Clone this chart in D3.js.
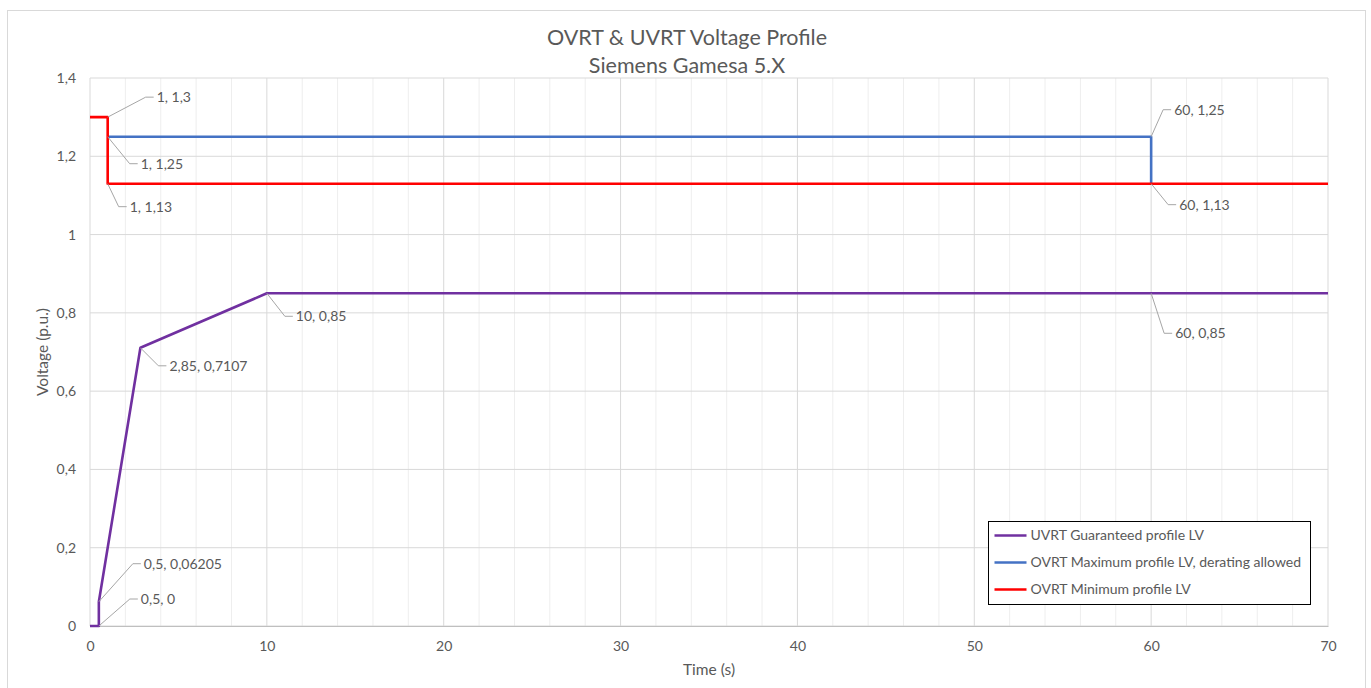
<!DOCTYPE html>
<html>
<head>
<meta charset="utf-8">
<script src="https://cdn.jsdelivr.net/npm/d3@7"></script>
<style>
  body { margin: 0; background: #fff; }
  text { font-family: Lato, "Open Sans", sans-serif; fill: #595959; }
</style>
</head>
<body>
<div id="chart"></div>
<script>
// series data (time s, voltage p.u.)
const uvrtT = [0, 0.5, 0.5, 2.85, 10, 60, 70];
const uvrtV = [0, 0, 0.06205, 0.7107, 0.85, 0.85, 0.85];
const ovrtMaxT = [1, 60, 60];
const ovrtMaxV = [1.25, 1.25, 1.13];
const ovrtMinT = [0, 1, 1, 70];
const ovrtMinV = [1.3, 1.3, 1.13, 1.13];

const seriesNames = ['UVRT Guaranteed profile LV', 'OVRT Maximum profile LV, derating allowed', 'OVRT Minimum profile LV'];
const seriesColors = ['#7030A0', '#4472C4', '#FF0000'];

// annotated points: [time, voltage]
const labelPts = [[1, 1.3], [1, 1.25], [1, 1.13], [60, 1.25], [60, 1.13], [60, 0.85], [10, 0.85], [2.85, 0.7107], [0.5, 0.06205], [0.5, 0]];
// leader elbow offsets in px from the point
const labelOffsets = [[38, -20], [22, 27], [11, 23], [12, -27], [17, 21], [13, 40], [18, 23], [18, 18], [34, -38], [31, -27]];

const width = 1371, height = 688;
const margin = { left: 90, right: 43, top: 78, bottom: 62 };

const svg = d3.select('#chart').append('svg')
  .attr('width', width).attr('height', height);

// outer chart frame
svg.append('rect')
  .attr('x', 7.5).attr('y', 10.5)
  .attr('width', 1358).attr('height', 700)
  .attr('fill', 'none').attr('stroke', '#d9d9d9');

const x = d3.scaleLinear().domain([0, 70]).range([margin.left, width - margin.right]);
const y = d3.scaleLinear().domain([0, 1.4]).range([height - margin.bottom, margin.top]);

const loc = d3.formatLocale({ decimal: ',', thousands: '.', grouping: [3], currency: ['', ''] });
const fmt = loc.format('~g');
const fmtVal = v => String(v).replace('.', ',');

// minor vertical grid
svg.append('g').selectAll('line')
  .data(d3.range(0, 71, 2).filter(d => d % 10 !== 0))
  .join('line')
  .attr('x1', d => x(d)).attr('x2', d => x(d))
  .attr('y1', y(0)).attr('y2', y(1.4))
  .attr('stroke', '#eeeeee').attr('stroke-width', 1);

// major grid
svg.append('g').selectAll('line')
  .data(x.ticks(7))
  .join('line')
  .attr('x1', d => x(d)).attr('x2', d => x(d))
  .attr('y1', y(0)).attr('y2', y(1.4))
  .attr('stroke', '#d9d9d9');

svg.append('g').selectAll('line')
  .data(y.ticks(7))
  .join('line')
  .attr('x1', x(0)).attr('x2', x(70))
  .attr('y1', d => y(d)).attr('y2', d => y(d))
  .attr('stroke', '#d9d9d9');

// axes
const xAxis = svg.append('g')
  .attr('transform', `translate(0,${y(0)})`)
  .call(d3.axisBottom(x).ticks(7).tickSize(0).tickPadding(15).tickFormat(fmt));
xAxis.select('.domain').attr('stroke', '#bfbfbf');

const yAxis = svg.append('g')
  .attr('transform', `translate(${x(0)},0)`)
  .call(d3.axisLeft(y).ticks(7).tickSize(0).tickPadding(14).tickFormat(fmt));
yAxis.select('.domain').remove();

svg.selectAll('.tick text')
  .style('font-family', 'Lato, "Open Sans", sans-serif')
  .style('font-size', '14px')
  .attr('fill', '#595959');

// titles
svg.append('text').attr('x', 687).attr('y', 45)
  .attr('text-anchor', 'middle').style('font-size', '21.5px')
  .text('OVRT & UVRT Voltage Profile');
svg.append('text').attr('x', 687).attr('y', 73)
  .attr('text-anchor', 'middle').style('font-size', '21.5px')
  .text('Siemens Gamesa 5.X');

svg.append('text').attr('x', x(35)).attr('y', 675)
  .attr('text-anchor', 'middle').style('font-size', '15.5px')
  .text('Time (s)');
svg.append('text')
  .attr('transform', `translate(48,${y(0.7)}) rotate(-90)`)
  .attr('text-anchor', 'middle').style('font-size', '15.5px')
  .text('Voltage (p.u.)');

// lines
const line = d3.line().x(d => x(d[0])).y(d => y(d[1]));
const series = [
  d3.zip(uvrtT, uvrtV),
  d3.zip(ovrtMaxT, ovrtMaxV),
  d3.zip(ovrtMinT, ovrtMinV)
];
svg.append('g').selectAll('path')
  .data(series)
  .join('path')
  .attr('d', line)
  .attr('fill', 'none')
  .attr('stroke', (d, i) => seriesColors[i])
  .attr('stroke-width', 2.6)
  .attr('stroke-linejoin', 'round');

// data labels with leader lines
const lab = svg.append('g');
labelPts.forEach((p, i) => {
  const px = x(p[0]), py = y(p[1]);
  const [dx, dy] = labelOffsets[i];
  lab.append('polyline')
    .attr('points', `${px},${py} ${px + dx},${py + dy} ${px + dx + 8},${py + dy}`)
    .attr('fill', 'none').attr('stroke', '#a6a6a6').attr('stroke-width', 1);
  lab.append('text')
    .attr('x', px + dx + 11).attr('y', py + dy)
    .attr('dy', '0.35em')
    .style('font-size', '14px')
    .text(`${fmtVal(p[0])}, ${fmtVal(p[1])}`);
});

// legend
const lg = svg.append('g').attr('transform', 'translate(988.5,521.5)');
lg.append('rect').attr('width', 322).attr('height', 83)
  .attr('fill', '#fff').attr('stroke', '#000').attr('stroke-width', 1);
seriesNames.forEach((name, i) => {
  const yy = 14 + i * 27;
  lg.append('line').attr('x1', 6).attr('x2', 38).attr('y1', yy).attr('y2', yy)
    .attr('stroke', seriesColors[i]).attr('stroke-width', 2.6);
  lg.append('text').attr('x', 42).attr('y', yy).attr('dy', '0.35em')
    .style('font-size', '14px').text(name);
});
</script>
</body>
</html>
